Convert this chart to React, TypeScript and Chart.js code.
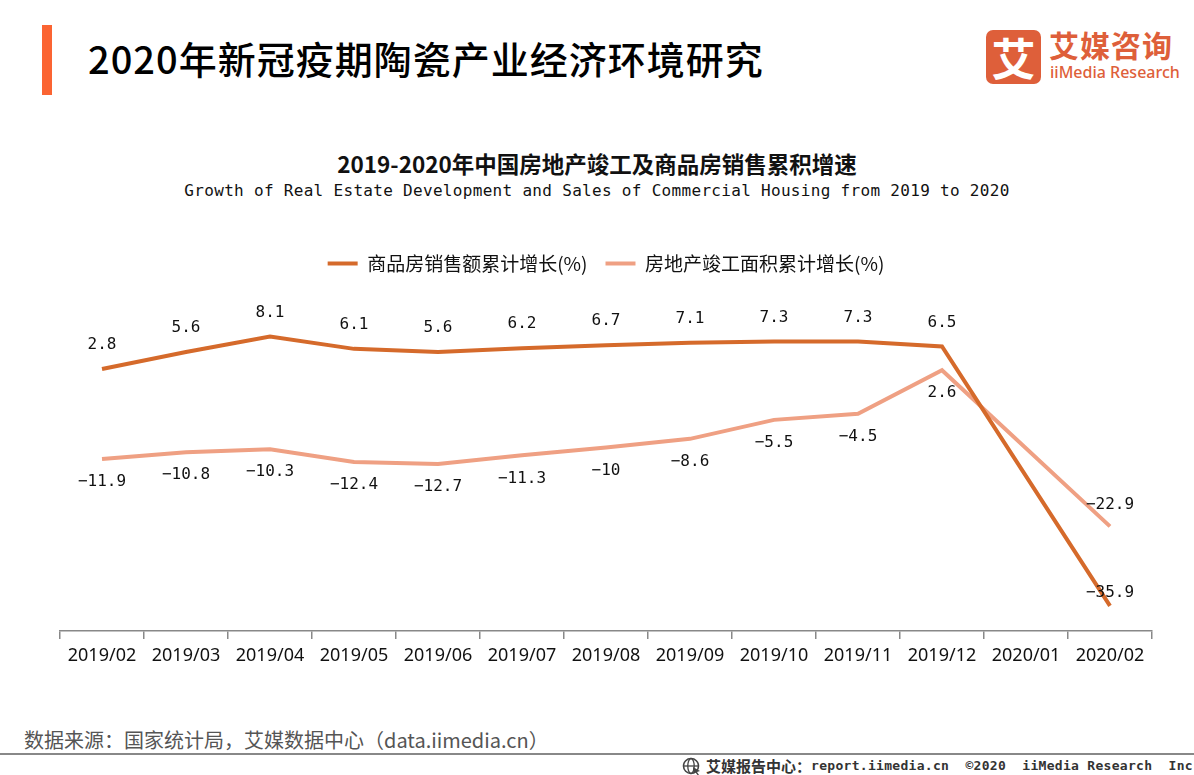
import React, { useEffect, useRef } from "react";
import { Chart, registerables } from "chart.js";

Chart.register(...registerables);

const categories = [
  "2019/02", "2019/03", "2019/04", "2019/05", "2019/06", "2019/07", "2019/08",
  "2019/09", "2019/10", "2019/11", "2019/12", "2020/01", "2020/02",
];
const salesGrowth: (number | null)[] = [2.8, 5.6, 8.1, 6.1, 5.6, 6.2, 6.7, 7.1, 7.3, 7.3, 6.5, null, -35.9];
const completionGrowth: (number | null)[] = [-11.9, -10.8, -10.3, -12.4, -12.7, -11.3, -10, -8.6, -5.5, -4.5, 2.6, null, -22.9];
const seriesNames = ["商品房销售额累计增长(%)", "房地产竣工面积累计增长(%)"];
const yMin = -40;
const yMax = 10;

const ORANGE = "#D56A2B";
const LIGHT = "#EFA083";
const CJK = '"Noto Sans CJK SC", "Noto Sans", sans-serif';

const legendSpacer = {
  id: "legendSpacer",
  beforeInit(chart: any) {
    const orig = chart.legend.fit;
    chart.legend.fit = function fit() {
      orig.bind(chart.legend)();
      this.height += 42;
    };
  },
};

const dataLabels = {
  id: "dataLabels",
  afterDatasetsDraw(chart: any) {
    const ctx = chart.ctx;
    ctx.save();
    ctx.font = '16px "DejaVu Sans Mono", monospace';
    ctx.fillStyle = "#111";
    ctx.textAlign = "center";
    ctx.textBaseline = "middle";
    chart.data.datasets.forEach((ds: any, di: number) => {
      const meta = chart.getDatasetMeta(di);
      const n = ds.data.length;
      ds.data.forEach((v: number | null, i: number) => {
        if (v === null || v === undefined) return;
        const pt = meta.data[i];
        let dy: number;
        if (di === 0) dy = i === n - 1 ? -13 : -24;
        else dy = i === n - 1 ? -22 : 23;
        ctx.fillText(String(v).replace("-", "\u2212"), pt.x, pt.y + dy);
      });
    });
    ctx.restore();
  },
};

function LineChart() {
  const ref = useRef<HTMLCanvasElement | null>(null);
  useEffect(() => {
    if (!ref.current) return;
    const chart = new Chart(ref.current, {
      type: "line",
      data: {
        labels: categories,
        datasets: [
          {
            label: seriesNames[0],
            data: salesGrowth,
            borderColor: ORANGE,
            backgroundColor: ORANGE,
            borderWidth: 4,
            pointRadius: 0,
            tension: 0,
            spanGaps: true,
          },
          {
            label: seriesNames[1],
            data: completionGrowth,
            borderColor: LIGHT,
            backgroundColor: LIGHT,
            borderWidth: 4,
            pointRadius: 0,
            tension: 0,
            spanGaps: true,
          },
        ],
      },
      options: {
        responsive: false,
        animation: false,
        layout: { padding: { left: 60, right: 42, top: 0, bottom: 0 } },
        plugins: {
          legend: {
            position: "top",
            labels: {
              boxWidth: 30,
              boxHeight: 4,
              padding: 18,
              color: "#111",
              font: { size: 19, family: CJK },
              generateLabels: (c: any) =>
                Chart.defaults.plugins.legend.labels.generateLabels(c).map((l: any) => ({
                  ...l,
                  lineWidth: 0,
                })),
            },
          },
          tooltip: { enabled: false },
          title: { display: false },
        },
        scales: {
          x: {
            offset: true,
            grid: {
              offset: true,
              drawOnChartArea: false,
              drawTicks: true,
              tickLength: 8,
              color: "#888",
              lineWidth: 1.5,
            },
            border: { display: true, color: "#888", width: 1.5 },
            ticks: {
              color: "#111",
              font: { size: 18, family: '"Noto Sans", sans-serif' },
              padding: 6,
              maxRotation: 0,
              autoSkip: false,
            },
            afterFit: (s: any) => {
              s.height = 45;
            },
          },
          y: { display: false, min: yMin, max: yMax },
        },
      },
      plugins: [legendSpacer, dataLabels],
    } as any);
    return () => chart.destroy();
  }, []);
  return (
    <canvas
      ref={ref}
      width={1194}
      height={440}
      style={{ position: "absolute", left: 0, top: 236, width: 1194, height: 440 }}
    />
  );
}

export default function App() {
  return (
    <div
      style={{
        position: "absolute",
        left: 0,
        top: 0,
        width: 1194,
        height: 775,
        background: "#fff",
        overflow: "hidden",
        fontFamily: CJK,
      }}
    >
      <div style={{ position: "absolute", left: 42, top: 25, width: 10, height: 70, background: "#FB6432" }} />
      <div
        style={{
          position: "absolute",
          left: 88,
          top: 39,
          fontSize: 38,
          lineHeight: "38px",
          fontWeight: 500,
          color: "#000",
          whiteSpace: "nowrap",
          letterSpacing: 1.0,
        }}
      >
        2020年新冠疫期陶瓷产业经济环境研究
      </div>

      <div
        style={{
          position: "absolute",
          left: 986,
          top: 30,
          width: 55,
          height: 54,
          borderRadius: 7,
          background: "#DE5F3A",
          color: "#fff",
          fontSize: 44,
          fontWeight: 700,
          lineHeight: "54px",
          textAlign: "center",
        }}
      >
        艾
      </div>
      <div
        style={{
          position: "absolute",
          left: 1049,
          top: 29,
          fontSize: 30,
          lineHeight: "30px",
          fontWeight: 700,
          color: "#DE5F3A",
          whiteSpace: "nowrap",
          letterSpacing: 1,
        }}
      >
        艾媒咨询
      </div>
      <div
        style={{
          position: "absolute",
          left: 1050,
          top: 63,
          fontSize: 16,
          lineHeight: "18px",
          fontWeight: 500,
          fontFamily: '"Noto Sans", sans-serif',
          color: "#DE5F3A",
          whiteSpace: "nowrap",
        }}
      >
        iiMedia Research
      </div>

      <div
        style={{
          position: "absolute",
          left: 0,
          width: 1194,
          top: 150,
          textAlign: "center",
          fontSize: 22.5,
          lineHeight: "26px",
          fontWeight: 700,
          color: "#111",
          whiteSpace: "nowrap",
        }}
      >
        2019-2020年中国房地产竣工及商品房销售累积增速
      </div>
      <div
        style={{
          position: "absolute",
          left: 0,
          width: 1194,
          top: 181,
          textAlign: "center",
          fontSize: 16,
          lineHeight: "20px",
          fontFamily: '"DejaVu Sans Mono", monospace',
          color: "#111",
          whiteSpace: "nowrap",
          letterSpacing: 0.31,
        }}
      >
        Growth of Real Estate Development and Sales of Commercial Housing from 2019 to 2020
      </div>

      <LineChart />

      <div
        style={{
          position: "absolute",
          left: 24,
          top: 727,
          fontSize: 20,
          lineHeight: "26px",
          color: "#555",
          whiteSpace: "nowrap",
        }}
      >
        数据来源：国家统计局，艾媒数据中心（data.iimedia.cn）
      </div>
      <div style={{ position: "absolute", left: 0, top: 753, width: 1194, height: 2, background: "#888" }} />
      <div
        style={{
          position: "absolute",
          left: 682,
          top: 757,
          fontSize: 15,
          lineHeight: "18px",
          fontWeight: 700,
          color: "#333",
          whiteSpace: "pre",
          display: "flex",
          alignItems: "center",
        }}
      >
        <svg width="20" height="18" viewBox="0 0 20 18" style={{ marginRight: 4 }}>
          <circle cx="9" cy="9" r="7.5" fill="none" stroke="#444" strokeWidth="1.6" />
          <ellipse cx="9" cy="9" rx="3.2" ry="7.5" fill="none" stroke="#444" strokeWidth="1.3" />
          <line x1="1.5" y1="9" x2="16.5" y2="9" stroke="#444" strokeWidth="1.3" />
          <path d="M11 10 L18 14 L15 15 L17 18 L15.5 18 L13.5 15.5 L11.5 17 Z" fill="#444" />
        </svg>
        <span>艾媒报告中心：</span>
        <span style={{ fontFamily: '"DejaVu Sans Mono", monospace', fontSize: 13, letterSpacing: 0.3 }}>
          {"report.iimedia.cn  ©2020  iiMedia Research  Inc"}
        </span>
      </div>
    </div>
  );
}
